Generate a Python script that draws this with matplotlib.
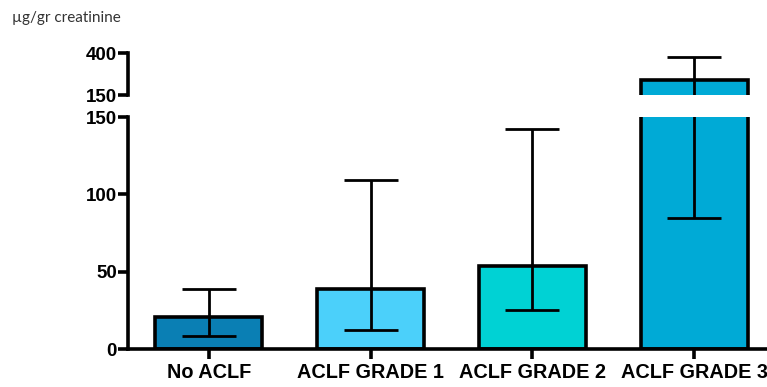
import matplotlib
matplotlib.use("Agg")
import matplotlib.pyplot as plt
import numpy as np

categories = ["No ACLF", "ACLF GRADE 1", "ACLF GRADE 2", "ACLF GRADE 3"]
medians = [20.5, 39, 53.5, 239]
err_low = [8.6, 12.5, 25.5, 85]
err_high = [38.6, 109, 142, 374]
colors = ["#0a7fb4", "#4bd0fa", "#00d2d4", "#00aad6"]
y_label = "µg/gr creatinine"

W, H = 767, 387
fig = plt.figure(figsize=(W / 100, H / 100), dpi=100)

left = 128 / W
right = 775 / W
ax_top = fig.add_axes([left, 1 - 95 / H, right - left, (95 - 53) / H])
ax_bot = fig.add_axes([left, 1 - 349 / H, right - left, (349 - 117) / H])

x = np.arange(len(categories))
med = np.array(medians)
lo = med - np.array(err_low)
hi = np.array(err_high) - med
lw = 2.6
for ax, ylim in ((ax_top, (150, 400)), (ax_bot, (0, 150))):
    ax.bar(x, medians, width=0.66, color=colors, edgecolor="black", linewidth=lw, zorder=2)
    # only draw error bars whose range reaches into this segment
    sel = [i for i in range(len(x)) if err_high[i] > ylim[0] and err_low[i] < ylim[1]]
    ax.errorbar(x[sel], med[sel], yerr=[lo[sel], hi[sel]], fmt="none", ecolor="black",
                elinewidth=2, capsize=19.5, capthick=2, zorder=3)
    ax.set_xlim(-0.5, 3.5)
    ax.set_ylim(*ylim)
    for s in ("top", "right"):
        ax.spines[s].set_visible(False)
    ax.spines["left"].set_linewidth(lw)
    ax.tick_params(axis="y", length=7, width=lw, labelsize=13.5, pad=1)

ax_top.set_yticks([150, 400])
ax_top.spines["bottom"].set_visible(False)
ax_top.set_xticks([])

ax_bot.set_yticks([0, 50, 100, 150])
ax_bot.spines["bottom"].set_linewidth(lw)
ax_bot.set_xticks(x)
ax_bot.set_xticklabels(categories, fontsize=14.3, fontweight="bold", family="Liberation Sans")
ax_bot.tick_params(axis="x", length=7, width=lw, pad=3)

for ax in (ax_top, ax_bot):
    for t in ax.get_yticklabels():
        t.set_fontweight("bold")
        t.set_fontfamily("Liberation Sans")

fig.text(12 / W, 1 - 18 / H, y_label, fontsize=11, color="#333333",
         family="Lato", va="center", ha="left")

fig.savefig("out.png", dpi=100)
